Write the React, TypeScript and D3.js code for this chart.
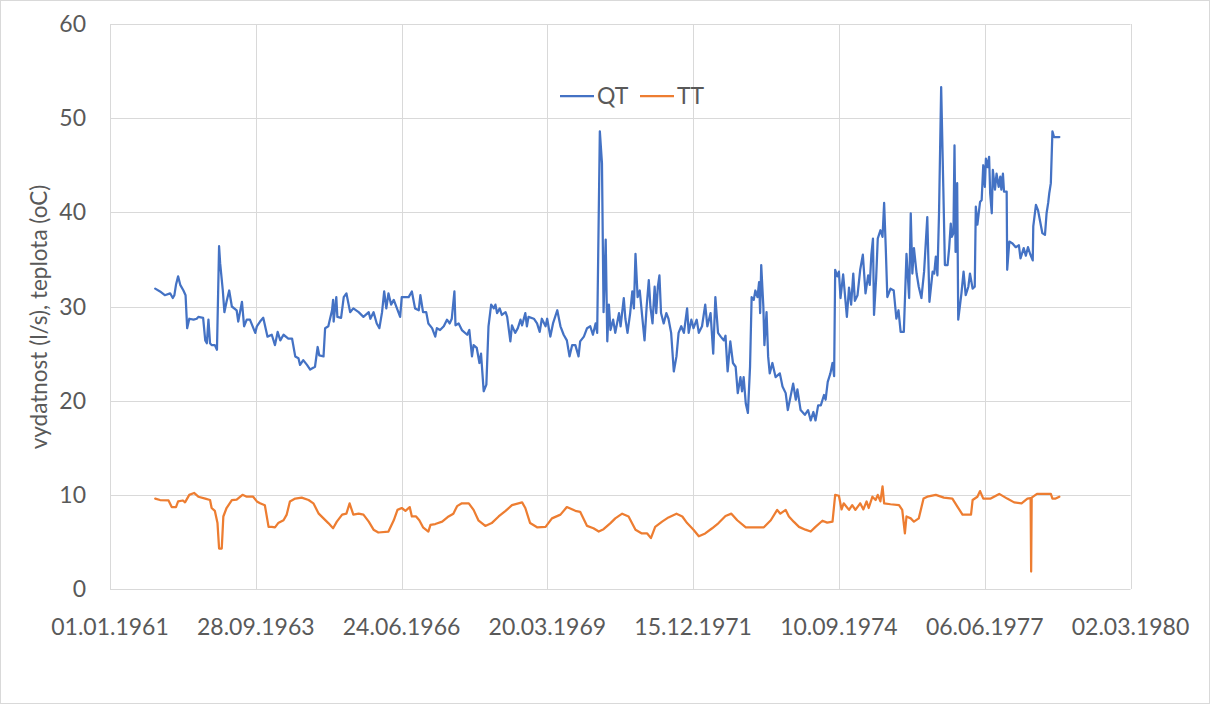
import React from "react";
import * as d3 from "d3";

const W = 1210;
const H = 704;
const MARGIN = { top: 24, right: 79.5, bottom: 115, left: 110 };
const FONT = "Lato, 'Open Sans', sans-serif";
const TEXT = "#595959";
const GRID = "#D9D9D9";

const seriesNames = ["QT", "TT"];
const seriesColors = ["#4472C4", "#ED7D31"];
const yTicks = [0, 10, 20, 30, 40, 50, 60];
const xTickLabels = [
  "01.01.1961", "28.09.1963", "24.06.1966", "20.03.1969",
  "15.12.1971", "10.09.1974", "06.06.1977", "02.03.1980",
];
const yTitle = "vydatnost (l/s), teplota (oC)";

// QT - dates as decimal years, values in l/s
const qtYears = [
  1961.85, 1961.94, 1962.03, 1962.13, 1962.18, 1962.21, 1962.24, 1962.28, 1962.32, 1962.38,
  1962.42, 1962.45, 1962.49, 1962.57, 1962.63, 1962.66, 1962.75, 1962.79, 1962.82, 1962.85,
  1962.88, 1962.91, 1962.97, 1963.01, 1963.05, 1963.07, 1963.12, 1963.15, 1963.19, 1963.24,
  1963.29, 1963.38, 1963.41, 1963.48, 1963.52, 1963.57, 1963.63, 1963.73, 1963.76, 1963.82,
  1963.88, 1963.96, 1964.04, 1964.10, 1964.15, 1964.20, 1964.26, 1964.35, 1964.42, 1964.48,
  1964.54, 1964.57, 1964.63, 1964.70, 1964.76, 1964.85, 1964.90, 1964.93, 1965.01, 1965.04,
  1965.10, 1965.17, 1965.19, 1965.20, 1965.25, 1965.27, 1965.34, 1965.39, 1965.44, 1965.51,
  1965.57, 1965.67, 1965.76, 1965.86, 1965.89, 1965.95, 1966.01, 1966.06, 1966.11, 1966.15,
  1966.19, 1966.23, 1966.28, 1966.33, 1966.39, 1966.45, 1966.48, 1966.61, 1966.67, 1966.73,
  1966.80, 1966.83, 1966.88, 1966.94, 1966.98, 1967.05, 1967.11, 1967.14, 1967.20, 1967.27,
  1967.33, 1967.38, 1967.42, 1967.47, 1967.49, 1967.55, 1967.61, 1967.71, 1967.75, 1967.80,
  1967.83, 1967.89, 1967.94, 1967.97, 1968.02, 1968.07, 1968.11, 1968.16, 1968.21, 1968.24,
  1968.27, 1968.32, 1968.36, 1968.43, 1968.46, 1968.52, 1968.55, 1968.61, 1968.66, 1968.71,
  1968.74, 1968.80, 1968.83, 1968.86, 1968.96, 1969.02, 1969.07, 1969.11, 1969.18, 1969.21,
  1969.27, 1969.32, 1969.40, 1969.46, 1969.52, 1969.58, 1969.63, 1969.68, 1969.74, 1969.80,
  1969.83, 1969.90, 1969.96, 1970.02, 1970.07, 1970.12, 1970.15, 1970.20, 1970.24, 1970.27,
  1970.31, 1970.34, 1970.37, 1970.40, 1970.45, 1970.49, 1970.56, 1970.59, 1970.65, 1970.68,
  1970.72, 1970.77, 1970.81, 1970.84, 1970.87, 1970.91, 1970.95, 1970.99, 1971.04, 1971.08,
  1971.12, 1971.15, 1971.19, 1971.23, 1971.26, 1971.29, 1971.32, 1971.35, 1971.40, 1971.45,
  1971.49, 1971.54, 1971.59, 1971.64, 1971.68, 1971.73, 1971.78, 1971.84, 1971.87, 1971.92,
  1971.96, 1972.02, 1972.06, 1972.12, 1972.18, 1972.22, 1972.28, 1972.33, 1972.37, 1972.42,
  1972.47, 1972.53, 1972.56, 1972.60, 1972.65, 1972.70, 1972.75, 1972.79, 1972.84, 1972.87,
  1972.90, 1972.94, 1972.98, 1973.02, 1973.05, 1973.09, 1973.12, 1973.16, 1973.19, 1973.21,
  1973.23, 1973.27, 1973.29, 1973.33, 1973.36, 1973.39, 1973.44, 1973.50, 1973.58, 1973.63,
  1973.69, 1973.73, 1973.78, 1973.83, 1973.88, 1973.91, 1973.97, 1974.05, 1974.11, 1974.16,
  1974.21, 1974.25, 1974.30, 1974.35, 1974.41, 1974.44, 1974.48, 1974.53, 1974.57, 1974.60,
  1974.62, 1974.66, 1974.69, 1974.72, 1974.77, 1974.84, 1974.88, 1974.92, 1974.96, 1974.99,
  1975.04, 1975.09, 1975.14, 1975.19, 1975.24, 1975.27, 1975.30, 1975.33, 1975.35, 1975.39,
  1975.42, 1975.47, 1975.51, 1975.54, 1975.57, 1975.60, 1975.66, 1975.72, 1975.77, 1975.81,
  1975.85, 1975.91, 1975.96, 1976.01, 1976.04, 1976.07, 1976.10, 1976.15, 1976.19, 1976.24,
  1976.29, 1976.35, 1976.39, 1976.45, 1976.48, 1976.51, 1976.54, 1976.57, 1976.61, 1976.65,
  1976.68, 1976.73, 1976.76, 1976.79, 1976.81, 1976.84, 1976.86, 1976.88, 1976.91, 1976.93,
  1976.99, 1977.03, 1977.07, 1977.12, 1977.15, 1977.20, 1977.24, 1977.26, 1977.29, 1977.34,
  1977.37, 1977.40, 1977.43, 1977.45, 1977.48, 1977.51, 1977.53, 1977.56, 1977.58, 1977.62,
  1977.65, 1977.69, 1977.72, 1977.74, 1977.77, 1977.79, 1977.84, 1977.85, 1977.89, 1977.95,
  1978.01, 1978.07, 1978.10, 1978.16, 1978.20, 1978.24, 1978.28, 1978.33, 1978.34, 1978.39,
  1978.43, 1978.47, 1978.51, 1978.56, 1978.59, 1978.62, 1978.64, 1978.67, 1978.70, 1978.73,
  1978.83,
];
const qtValues = [
  31.9, 31.6, 31.2, 31.4, 30.9, 31.2, 32.3, 33.2, 32.3, 31.7,
  31.2, 27.7, 28.7, 28.6, 28.7, 28.9, 28.8, 26.4, 26.1, 28.6,
  26.1, 25.9, 25.9, 25.4, 36.4, 34.6, 31.7, 29.4, 30.5, 31.7,
  30.0, 29.6, 28.4, 30.5, 27.9, 28.6, 28.6, 27.2, 27.9, 28.4,
  28.8, 26.8, 27.0, 25.9, 27.3, 26.4, 27.0, 26.6, 26.6, 24.7,
  24.5, 23.8, 24.3, 23.8, 23.3, 23.6, 25.7, 24.8, 24.7, 27.7,
  27.9, 29.6, 30.7, 28.4, 31.0, 28.9, 28.8, 31.0, 31.4, 29.4,
  29.8, 29.4, 28.9, 29.4, 28.7, 29.4, 28.2, 27.7, 29.4, 31.6,
  29.8, 31.4, 30.2, 30.7, 29.8, 28.9, 31.0, 31.0, 31.6, 29.8,
  29.6, 31.2, 29.4, 29.4, 28.2, 27.7, 26.8, 27.7, 27.5, 27.9,
  28.6, 28.2, 28.7, 31.6, 28.0, 28.2, 27.5, 27.0, 27.5, 24.7,
  25.9, 25.6, 24.0, 25.0, 21.0, 21.7, 27.9, 30.2, 29.8, 30.2,
  29.3, 29.8, 29.1, 29.4, 28.9, 26.3, 28.0, 27.2, 27.7, 28.6,
  28.0, 29.3, 27.9, 28.9, 28.7, 28.2, 27.3, 28.7, 27.9, 28.7,
  26.8, 28.2, 29.6, 27.9, 27.0, 26.4, 24.7, 25.9, 25.9, 24.7,
  26.3, 26.8, 27.7, 27.9, 27.0, 28.2, 27.2, 48.6, 45.2, 29.4,
  37.1, 26.3, 30.2, 27.5, 28.6, 27.2, 29.3, 27.9, 30.9, 28.7,
  27.2, 29.3, 31.6, 29.8, 35.6, 31.0, 31.7, 29.3, 26.4, 30.0,
  32.8, 30.0, 28.2, 32.1, 29.3, 32.1, 33.3, 29.3, 28.2, 29.3,
  28.7, 27.2, 23.1, 24.7, 27.2, 27.9, 27.2, 29.8, 27.2, 28.6,
  27.7, 28.6, 27.2, 27.9, 30.2, 27.9, 29.3, 25.0, 31.0, 27.2,
  26.8, 26.4, 26.9, 23.1, 26.3, 24.0, 23.6, 20.8, 22.5, 21.0,
  22.5, 19.7, 18.7, 23.6, 31.0, 30.7, 31.7, 31.0, 32.6, 29.3,
  34.4, 30.0, 25.9, 29.4, 24.7, 22.9, 24.0, 22.5, 22.9, 21.5,
  20.8, 19.0, 20.4, 21.8, 20.1, 21.2, 19.0, 18.5, 19.0, 17.9,
  18.8, 17.9, 19.5, 19.5, 20.6, 20.1, 22.0, 22.9, 24.0, 22.6,
  33.9, 33.2, 33.7, 30.9, 33.4, 28.9, 32.0, 30.2, 33.5, 30.6,
  31.2, 33.9, 35.5, 31.4, 33.3, 32.3, 35.5, 37.2, 29.1, 33.0,
  37.2, 38.1, 37.4, 41.0, 36.3, 31.0, 31.9, 31.7, 28.7, 29.6,
  27.3, 27.3, 35.6, 30.9, 39.9, 33.5, 36.2, 33.5, 32.1, 30.9,
  33.7, 39.5, 30.5, 33.7, 33.5, 35.3, 33.3, 39.9, 53.3, 42.7,
  34.4, 34.4, 36.2, 38.8, 37.4, 37.8, 47.1, 35.8, 43.1, 28.6,
  31.4, 33.7, 31.2, 32.1, 33.5, 31.9, 32.1, 40.6, 38.7, 41.1,
  41.3, 45.0, 42.7, 45.7, 44.8, 45.9, 42.0, 39.9, 44.5, 42.4,
  44.1, 42.7, 43.8, 42.4, 44.1, 42.2, 42.2, 33.9, 36.9, 36.7,
  36.3, 36.5, 35.1, 36.2, 35.4, 36.3, 35.6, 34.9, 38.5, 40.8,
  40.2, 39.0, 37.8, 37.6, 39.9, 41.0, 42.0, 43.1, 48.6, 48.0,
  48.0,
];

// TT - dates as decimal years, values in oC
const ttYears = [
  1961.85, 1961.94, 1962.10, 1962.16, 1962.24, 1962.28, 1962.37, 1962.41, 1962.49, 1962.58,
  1962.66, 1962.79, 1962.88, 1962.91, 1962.97, 1963.02, 1963.05, 1963.10, 1963.13, 1963.19,
  1963.29, 1963.38, 1963.49, 1963.57, 1963.69, 1963.76, 1963.82, 1963.91, 1963.98, 1964.04,
  1964.10, 1964.16, 1964.26, 1964.32, 1964.38, 1964.48, 1964.60, 1964.73, 1964.82, 1964.92,
  1965.01, 1965.10, 1965.19, 1965.26, 1965.36, 1965.44, 1965.50, 1965.57, 1965.67, 1965.76,
  1965.86, 1965.95, 1966.04, 1966.23, 1966.33, 1966.40, 1966.48, 1966.55, 1966.63, 1966.67,
  1966.75, 1966.81, 1966.88, 1966.98, 1967.02, 1967.11, 1967.24, 1967.36, 1967.45, 1967.52,
  1967.61, 1967.74, 1967.83, 1967.92, 1968.05, 1968.17, 1968.30, 1968.43, 1968.55, 1968.67,
  1968.74, 1968.80, 1968.89, 1969.02, 1969.18, 1969.30, 1969.46, 1969.58, 1969.74, 1969.83,
  1969.96, 1970.08, 1970.18, 1970.27, 1970.40, 1970.49, 1970.62, 1970.74, 1970.87, 1970.99,
  1971.09, 1971.16, 1971.24, 1971.37, 1971.49, 1971.64, 1971.75, 1971.84, 1971.96, 1972.06,
  1972.18, 1972.31, 1972.43, 1972.56, 1972.67, 1972.78, 1972.94, 1973.09, 1973.28, 1973.41,
  1973.53, 1973.59, 1973.69, 1973.75, 1973.84, 1973.94, 1974.06, 1974.16, 1974.25, 1974.38,
  1974.47, 1974.57, 1974.62, 1974.69, 1974.74, 1974.78, 1974.88, 1974.94, 1975.00, 1975.09,
  1975.15, 1975.21, 1975.25, 1975.32, 1975.38, 1975.42, 1975.47, 1975.51, 1975.54, 1975.66,
  1975.82, 1975.88, 1975.93, 1975.96, 1976.04, 1976.10, 1976.19, 1976.28, 1976.35, 1976.51,
  1976.66, 1976.82, 1976.92, 1977.01, 1977.17, 1977.20, 1977.29, 1977.34, 1977.40, 1977.54,
  1977.70, 1977.85, 1977.98, 1978.12, 1978.23, 1978.29, 1978.30, 1978.31, 1978.41, 1978.67,
  1978.70, 1978.76, 1978.83,
];
const ttValues = [
  9.6, 9.45, 9.4, 8.7, 8.7, 9.3, 9.4, 9.2, 10.0, 10.2,
  9.8, 9.6, 9.45, 8.6, 8.3, 7.0, 4.3, 4.3, 7.7, 8.6,
  9.45, 9.5, 10.0, 9.8, 9.8, 9.3, 9.1, 8.9, 6.6, 6.6,
  6.55, 7.0, 7.3, 7.9, 9.3, 9.6, 9.7, 9.45, 9.1, 8.0,
  7.5, 7.0, 6.45, 7.15, 7.9, 8.0, 9.1, 7.9, 8.0, 7.9,
  7.15, 6.3, 6.0, 6.1, 7.3, 8.4, 8.6, 8.3, 8.7, 7.7,
  7.7, 7.3, 6.55, 6.1, 6.8, 6.9, 7.15, 7.7, 8.0, 8.8,
  9.1, 9.1, 8.4, 7.3, 6.7, 7.0, 7.7, 8.3, 8.9, 9.1,
  9.2, 8.6, 7.0, 6.55, 6.6, 7.5, 7.9, 8.7, 8.3, 8.2,
  6.7, 6.45, 6.1, 6.35, 7.0, 7.5, 8.0, 7.7, 6.3, 5.9,
  5.9, 5.4, 6.6, 7.15, 7.6, 8.0, 7.7, 7.0, 6.3, 5.6,
  5.9, 6.45, 7.0, 7.75, 8.0, 7.3, 6.55, 6.55, 6.55, 7.3,
  8.4, 8.0, 8.4, 7.7, 7.15, 6.6, 6.3, 6.1, 6.6, 7.25,
  7.05, 7.15, 10.0, 9.9, 8.45, 9.1, 8.4, 8.9, 8.4, 9.1,
  8.45, 9.3, 8.6, 9.8, 9.45, 10.0, 9.3, 10.9, 9.1, 9.0,
  8.9, 8.4, 5.9, 7.7, 7.5, 7.15, 7.5, 9.6, 9.8, 10.0,
  9.7, 9.6, 8.7, 7.9, 7.9, 9.45, 9.8, 10.4, 9.6, 9.6,
  10.1, 9.6, 9.2, 9.1, 9.6, 9.65, 1.85, 9.7, 10.1, 10.1,
  9.6, 9.6, 9.8,
];

const fromYear = (y: number) => {
  const yr = Math.floor(y);
  const a = Date.UTC(yr, 0, 1);
  const b = Date.UTC(yr + 1, 0, 1);
  return new Date(a + (y - yr) * (b - a));
};

const parseTick = d3.utcParse("%d.%m.%Y");

export default function App() {
  const tickDates = xTickLabels.map((s) => parseTick(s) as Date);

  const x = d3
    .scaleUtc()
    .domain([tickDates[0], tickDates[tickDates.length - 1]])
    .range([MARGIN.left, W - MARGIN.right]);
  const y = d3
    .scaleLinear()
    .domain([0, 60])
    .range([H - MARGIN.bottom, MARGIN.top]);

  const series = [
    { name: seriesNames[0], color: seriesColors[0], pts: qtYears.map((t, i) => [fromYear(t), qtValues[i]] as [Date, number]) },
    { name: seriesNames[1], color: seriesColors[1], pts: ttYears.map((t, i) => [fromYear(t), ttValues[i]] as [Date, number]) },
  ];

  const lineGen = d3
    .line<[Date, number]>()
    .x((d) => x(d[0]))
    .y((d) => y(d[1]));

  const plotLeft = MARGIN.left;
  const plotRight = W - MARGIN.right;
  const plotTop = MARGIN.top;
  const plotBottom = H - MARGIN.bottom;

  // legend layout
  const legendY = 96;
  const legendX = 560;
  const sample = 34;
  const itemW = 80;

  return (
    <svg
      width={W}
      height={H}
      style={{ position: "absolute", left: 0, top: 0, background: "#fff" }}
      fontFamily={FONT}
    >
      <rect x={0.5} y={0.5} width={W - 1} height={H - 1} fill="#fff" stroke={GRID} />

      {yTicks.map((t) => (
        <line
          key={"hy" + t}
          x1={plotLeft}
          x2={plotRight}
          y1={Math.round(y(t)) + 0.5}
          y2={Math.round(y(t)) + 0.5}
          stroke={GRID}
          strokeWidth={1}
        />
      ))}
      {tickDates.map((d, i) => (
        <line
          key={"vx" + i}
          x1={Math.round(x(d)) + 0.5}
          x2={Math.round(x(d)) + 0.5}
          y1={plotTop}
          y2={plotBottom}
          stroke={GRID}
          strokeWidth={1}
        />
      ))}

      {yTicks.map((t) => (
        <text
          key={"ty" + t}
          x={86}
          y={y(t) + 8}
          textAnchor="end"
          fontSize={23}
          fill={TEXT}
        >
          {t}
        </text>
      ))}
      {tickDates.map((d, i) => (
        <text
          key={"tx" + i}
          x={x(d)}
          y={635}
          textAnchor="middle"
          fontSize={23}
          fill={TEXT}
        >
          {xTickLabels[i]}
        </text>
      ))}

      <text
        transform={`translate(47,317) rotate(-90)`}
        textAnchor="middle"
        fontSize={22.5}
        fill={TEXT}
      >
        {yTitle}
      </text>

      {series.map((s) => (
        <path
          key={s.name}
          d={lineGen(s.pts) || ""}
          fill="none"
          stroke={s.color}
          strokeWidth={2.25}
          strokeLinejoin="round"
          strokeLinecap="round"
        />
      ))}

      {series.map((s, i) => (
        <g key={"lg" + s.name} transform={`translate(${legendX + i * itemW},${legendY})`}>
          <line x1={0} x2={sample} y1={0} y2={0} stroke={s.color} strokeWidth={2.25} />
          <text x={sample + 3} y={8} fontSize={23} fill={TEXT}>
            {s.name}
          </text>
        </g>
      ))}
    </svg>
  );
}
